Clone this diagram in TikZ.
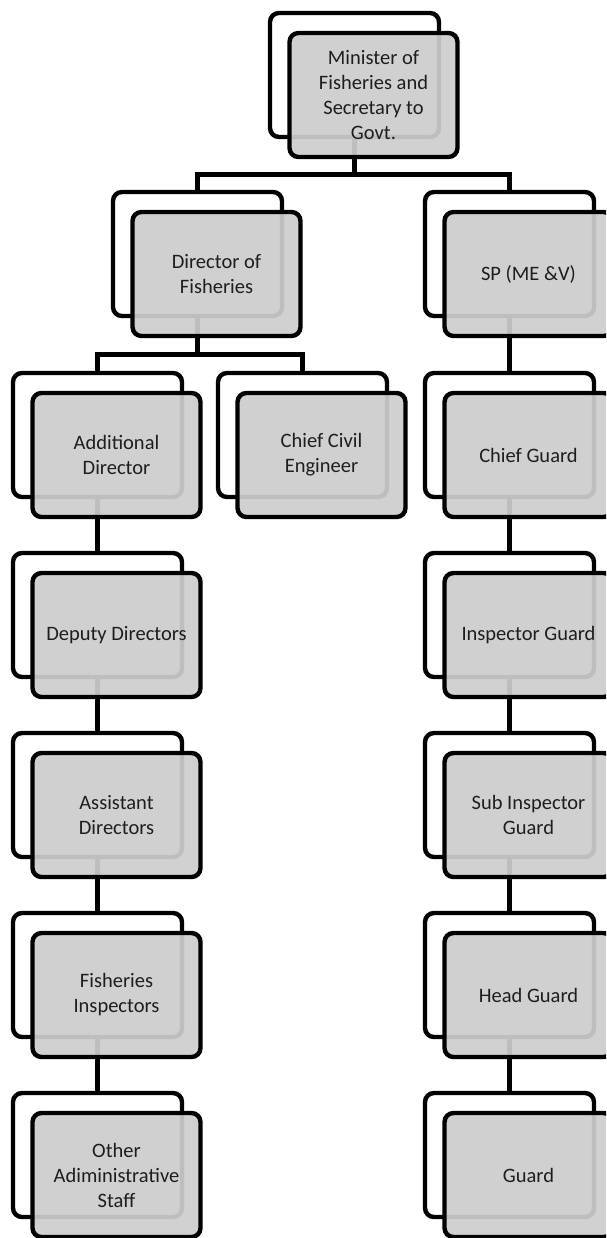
\documentclass[tikz,border=0pt]{standalone}
\usepackage{fontspec}
\setmainfont{Carlito}
\usetikzlibrary{calc}
\definecolor{boxfill}{RGB}{205,205,205}
\definecolor{ink}{RGB}{30,30,30}
\pgfdeclarelayer{frames}
\pgfdeclarelayer{links}
\pgfsetlayers{frames,links,main}
\tikzset{
  frame/.style={draw=black, line width=4.4pt, rounded corners=9pt, fill=white,
    minimum width=169pt, minimum height=124pt, inner sep=0pt, outer sep=0pt},
  card/.style={frame, minimum width=168pt, fill=boxfill, fill opacity=0.93, text opacity=1,
    text=ink, align=center, font=\fontsize{20.5}{25}\selectfont},
  conn/.style={line width=4.4pt}
}
% one unit: a white back frame (x, y = its top-left corner) and a grey card offset from it
\newcommand\orgunit[4]{%
  \begin{pgfonlayer}{frames}
    \node[frame] (#1-b) at ({#2+84.5},{#3+62}) {};
  \end{pgfonlayer}
  \node[card] (#1) at ({#2+84.5+19},{#3+62+20}) {#4};}
% elbow connector from a parent unit to a child unit
\newcommand\orglink[2]{%
  \path ($(#1.south)!.5!(#2-b.north)$) coordinate (#1#2mid);
  \draw[conn] (#1-b.south) -- (#1-b.south |- #1#2mid) -| (#2-b.north);}
\begin{document}
\begin{tikzpicture}[x=1pt,y=-1pt]
\useasboundingbox (0,0) rectangle (606,1238);
\clip (0,0) rectangle (606,1238);

\orgunit{top}{270}{13}{Minister of\\Fisheries and\\Secretary to\\Govt.}
\orgunit{dir}{113}{192}{Director of\\Fisheries}
\orgunit{sp}{425}{192}{SP (ME \&V)}
\orgunit{add}{13}{373}{Additional\\Director}
\orgunit{cce}{218}{373}{Chief Civil\\Engineer}
\orgunit{chief}{425}{373}{Chief Guard}
\orgunit{dep}{13}{553}{Deputy Directors}
\orgunit{insp}{425}{553}{Inspector Guard}
\orgunit{asst}{13}{733}{Assistant\\Directors}
\orgunit{sub}{425}{733}{Sub Inspector\\Guard}
\orgunit{fi}{13}{913}{Fisheries\\Inspectors}
\orgunit{head}{425}{913}{Head Guard}
\orgunit{other}{13}{1093}{Other\\Adiministrative\\Staff}
\orgunit{guard}{425}{1093}{Guard}

% connectors, between the back frames and the cards
\begin{pgfonlayer}{links}
\orglink{top}{dir}
\orglink{top}{sp}
\orglink{dir}{add}
\orglink{dir}{cce}
\orglink{add}{dep}
\orglink{dep}{asst}
\orglink{asst}{fi}
\orglink{fi}{other}
\orglink{sp}{chief}
\orglink{chief}{insp}
\orglink{insp}{sub}
\orglink{sub}{head}
\orglink{head}{guard}
\end{pgfonlayer}
\end{tikzpicture}
\end{document}
